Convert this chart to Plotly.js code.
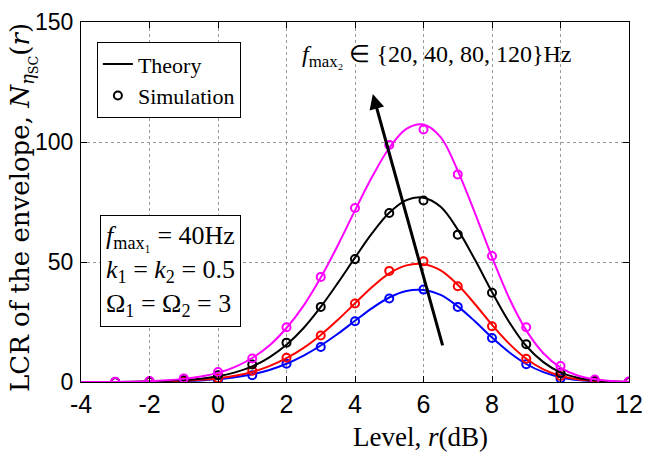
<!DOCTYPE html>
<html>
<head>
<meta charset="utf-8">
<script src="https://cdn.plot.ly/plotly-3.0.1.min.js"></script>
<style>html,body{margin:0;padding:0;background:#fff;}#chart{width:654px;height:459px;}</style>
</head>
<body>
<div id="chart"></div>
<script>
// Theory curves at r = -4 .. 12 step 0.5
var rTheory = [-4,-3.5,-3,-2.5,-2,-1.5,-1,-0.5,0,0.5,1,1.5,2,2.5,3,3.5,4,4.5,5,5.5,6,6.5,7,7.5,8,8.5,9,9.5,10,10.5,11,11.5,12];
var theory20  = [0,0.005,0.01,0.04,0.08,0.18,0.35,0.65,1.2,2,3.2,5,7.6,11,15.2,20.1,25.5,30.8,35.2,37.9,38.3,36.3,31.5,25.3,18.5,12.4,7.5,4.1,2,0.85,0.3,0.08,0.02];
var theory40  = [0,0.01,0.02,0.05,0.1,0.25,0.5,0.9,1.6,2.6,4.2,6.6,9.9,14.2,19.6,25.9,32.8,39.6,45.3,48.6,49.1,46.5,40.5,32.5,23.8,16,9.7,5.3,2.6,1.1,0.4,0.1,0.03];
var theory80  = [0,0.01,0.03,0.1,0.2,0.45,0.8,1.4,2.4,4,6.5,10.3,15.5,22.5,31.3,41.3,51.8,62,70.5,75.8,76.8,73,63.5,51,37.5,25,15,8.3,4,1.8,0.7,0.2,0.05];
var theory120 = [0,0.02,0.05,0.15,0.35,0.7,1.3,2.3,3.8,6.3,10,15.2,22.5,31.8,43.5,57,71.5,85.5,97.5,105.5,107.3,102,88,70.5,52,35,21.5,12,6,2.7,1.1,0.4,0.1];

// Simulation points at r = -3 .. 12
var rSim = [-3,-2,-1,0,1,2,3,4,5,6,7,8,9,10,11,12];
var sim20  = [0,0.1,0.4,0.8,2.8,7.6,14.6,25.3,34.8,38.5,31.3,18.3,7.4,1.5,0.3,0.02];
var sim40  = [0,0.1,0.5,1.6,4.7,10.1,19.4,32.7,46.3,50.3,39.9,23.2,9.7,2.5,0.4,0.05];
var sim80  = [0,0.2,0.8,2.8,7.3,16.4,31.3,51.2,70.4,75.6,61.4,37.2,15.7,3.8,0.5,0.1];
var sim120 = [0.1,0.4,1.5,4.2,9.8,22.8,43.8,72.5,98.8,105.2,86.5,52.5,22.8,6.7,1,0.2];

var xTicks = [-4,-2,0,2,4,6,8,10,12];
var xTickText = ['-4','-2','0','2','4','6','8','10','12'];
var yTicks = [0,50,100,150];
var yTickText = ['0','50','100','150'];

var serif = '"Liberation Serif", "Times New Roman", serif';
var wideSerif = '"DejaVu Serif", "Liberation Serif", serif';
var sans = '"Liberation Sans", Arial, sans-serif';

function lineTrace(y, color, name, show) {
  return {x: rTheory, y: y, mode: 'lines', line: {color: color, width: 2, shape: 'spline'},
          name: name, showlegend: !!show, hoverinfo: 'skip', legendrank: 1};
}
function simTrace(y, color, name, show) {
  return {x: rSim, y: y, mode: 'markers', marker: {symbol: 'circle-open', size: 8, color: color, line: {width: 2, color: color}},
          name: name, showlegend: !!show, hoverinfo: 'skip', legendrank: 2};
}

var data = [
  lineTrace(theory20, '#0000ff'), simTrace(sim20, '#0000ff'),
  lineTrace(theory40, '#ff0000'), simTrace(sim40, '#ff0000'),
  lineTrace(theory80, '#000000', 'Theory', true), simTrace(sim80, '#000000', 'Simulation', true),
  lineTrace(theory120, '#ff00ff'), simTrace(sim120, '#ff00ff')
];

var axisCommon = {
  showline: true, linecolor: '#000', linewidth: 1, mirror: 'ticks',
  ticks: 'inside', ticklen: 6, tickcolor: '#000',
  showgrid: true, gridcolor: '#9a9a9a', griddash: 'dot', gridwidth: 1,
  zeroline: false
};

var layout = {
  width: 654, height: 459,
  margin: {l: 81, r: 25, t: 22, b: 77},
  paper_bgcolor: '#fff', plot_bgcolor: '#fff',
  xaxis: Object.assign({}, axisCommon, {range: [-4, 12], tickvals: xTicks, ticktext: xTickText,
    tickfont: {family: sans, size: 25, color: '#000'}}),
  yaxis: Object.assign({}, axisCommon, {range: [0, 150], tickvals: yTicks, ticktext: yTickText, ticklabelstandoff: 2,
    tickfont: {family: sans, size: 23, color: '#000'}}),
  showlegend: true,
  legend: {x: 0.029, y: 0.944, xanchor: 'left', yanchor: 'top', bgcolor: '#fff', bordercolor: '#000', borderwidth: 1,
           font: {family: serif, size: 22, color: '#000'}},
  annotations: [
    {xref: 'x', yref: 'y', axref: 'x', ayref: 'y', x: 4.52, y: 120, ax: 6.57, ay: 14.6,
     showarrow: true, arrowhead: 2, arrowsize: 1, arrowwidth: 3, arrowcolor: '#000', text: ''},
    {xref: 'paper', yref: 'paper', x: 0.40, y: 0.905, xanchor: 'left', yanchor: 'middle', showarrow: false,
     text: '<i>f</i><sub>max₂</sub> ∈ {20, 40, 80, 120}Hz', font: {family: serif, size: 24, color: '#000'}},
    {xref: 'paper', yref: 'paper', x: 0.0347, y: 0.308, xanchor: 'left', yanchor: 'middle', showarrow: false, align: 'left',
     bordercolor: '#000', borderwidth: 1, bgcolor: '#fff', borderpad: 5,
     text: '<i>f</i><sub>max₁</sub> = 40Hz<br><i>k</i><sub>1</sub> = <i>k</i><sub>2</sub> = 0.5<br>Ω<sub>1</sub> = Ω<sub>2</sub> = 3',
     font: {family: serif, size: 26, color: '#000'}},
    // x-axis title
    {xref: 'paper', yref: 'paper', x: 0.62, y: -0.153, xanchor: 'center', yanchor: 'middle', showarrow: false,
     text: 'Level, <i>r</i>(dB)', font: {family: serif, size: 27, color: '#000'}},
    // y-axis title
    {xref: 'paper', yref: 'paper', x: -0.106, y: 0.486, xanchor: 'center', yanchor: 'middle', showarrow: false, textangle: -90,
     text: 'LCR of the envelope, <i>N</i><sub><i>η</i><sub>SC</sub></sub>(<i>r</i>)', font: {family: wideSerif, size: 26, color: '#000'}}
  ]
};

Plotly.newPlot('chart', data, layout, {staticPlot: true, displayModeBar: false});
</script>
</body>
</html>
